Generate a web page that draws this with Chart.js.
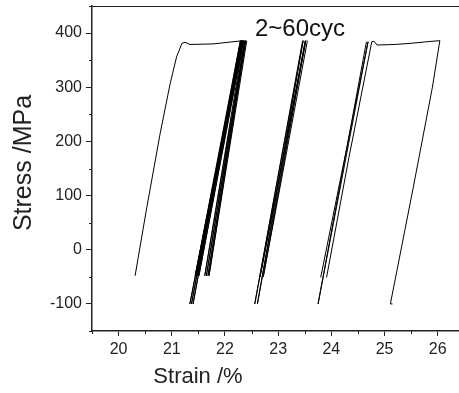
<!DOCTYPE html>
<html>
<head>
<meta charset="utf-8">
<script src="https://cdn.jsdelivr.net/npm/chart.js@4/dist/chart.umd.min.js"></script>
<style>
  html, body { margin: 0; padding: 0; background: #fff; }
</style>
</head>
<body>
<canvas id="chart" width="459" height="393"></canvas>
<script>
// cycle 1: first loading with the flat plateau
const firstStrain = [20.31, 20.53, 20.78, 20.97, 21.09, 21.19, 21.25, 21.34, 21.78, 22.34];
const firstStress = [-48, 78, 214, 307, 356, 381, 383, 379, 380, 386];

// early cycles, unload/reload path (dense group)
const band1Strain = [22.34, 21.34, 22.29, 21.37, 22.30, 21.40, 22.31,
                     21.44, 22.32, 21.46, 22.33, 21.48, 22.34, 21.51, 22.35,
                     21.62, 22.37, 21.65, 22.38, 21.68, 22.39, 21.70, 22.41];
const band1Stress = [386, -100, 386, -100, 386, -100, 386,
                     -48, 386, -48, 386, -48, 386, -48, 386,
                     -48, 386, -48, 386, -48, 386, -48, 386];

// middle cycles
const band2Strain = [23.46, 22.56, 23.47, 22.61, 23.51, 22.66, 23.52, 22.72, 23.55];
const band2Stress = [386, -100, 386, -100, 386, -50, 386, -50, 386];

// later cycles
const band3Strain = [23.80, 24.69, 23.75, 24.66];
const band3Stress = [-51, 384, -100, 384];

// last cycle: reload, second plateau, unload
const lastStrain = [23.91, 24.33, 24.76, 24.80, 24.86, 25.20, 25.48, 25.79, 26.04, 25.90, 25.54, 25.11, 25.15];
const lastStress = [-51, 170, 384, 385, 378, 379, 381, 384, 386, 300, 115, -100, -100];

const xTicks = [20, 21, 22, 23, 24, 25, 26];
const yTicks = [-100, 0, 100, 200, 300, 400];
const xMinor = [19.5, 20.5, 21.5, 22.5, 23.5, 24.5, 25.5];
const yMinor = [-150, -50, 50, 150, 250, 350, 450];

const xTitle = 'Strain /%';
const yTitle = 'Stress /MPa';
const note = '2~60cyc';

function pts(xs, ys) {
  return xs.map((x, i) => ({ x: x, y: ys[i] }));
}

function line(xs, ys) {
  return {
    data: pts(xs, ys),
    showLine: true,
    borderColor: '#000',
    borderWidth: 1,
    pointRadius: 0,
    tension: 0,
    fill: false
  };
}

const FONT = '"Liberation Sans", Arial, sans-serif';
const INK = '#222';

// top frame, minor ticks, titles and the cycle note
const extras = {
  id: 'extras',
  afterDraw(chart) {
    const ctx = chart.ctx, a = chart.chartArea;
    const xs = chart.scales.x, ys = chart.scales.y;
    ctx.save();
    ctx.strokeStyle = INK;
    ctx.lineWidth = 1;
    ctx.beginPath();
    ctx.moveTo(a.left, a.top + 0.5);
    ctx.lineTo(a.right, a.top + 0.5);
    xMinor.forEach(v => {
      const p = Math.round(xs.getPixelForValue(v)) + 0.5;
      ctx.moveTo(p, a.bottom);
      ctx.lineTo(p, a.bottom + 3);
    });
    yMinor.forEach(v => {
      const p = Math.round(ys.getPixelForValue(v)) + 0.5;
      ctx.moveTo(a.left, p);
      ctx.lineTo(a.left - 3, p);
    });
    ctx.stroke();

    ctx.fillStyle = INK;
    ctx.font = '22px ' + FONT;
    ctx.textAlign = 'center';
    ctx.textBaseline = 'alphabetic';
    ctx.fillText(xTitle, 198, 383);

    ctx.save();
    ctx.translate(24, 163);
    ctx.rotate(-Math.PI / 2);
    ctx.font = '25px ' + FONT;
    ctx.textBaseline = 'middle';
    ctx.fillText(yTitle, 0, 0);
    ctx.restore();

    ctx.fillStyle = '#111';
    ctx.font = '24px ' + FONT;
    ctx.textAlign = 'left';
    ctx.fillText(note, 255, 36);
    ctx.restore();
  }
};

new Chart(document.getElementById('chart'), {
  type: 'scatter',
  data: {
    datasets: [
      line(firstStrain, firstStress),
      line(band1Strain, band1Stress),
      line(band2Strain, band2Stress),
      line(band3Strain, band3Stress),
      line(lastStrain, lastStress)
    ]
  },
  options: {
    responsive: false,
    animation: false,
    devicePixelRatio: 1,
    layout: { padding: { top: 6, right: 0, left: 0, bottom: 0 } },
    plugins: { legend: { display: false }, tooltip: { enabled: false } },
    scales: {
      x: {
        type: 'linear',
        min: 19.5,
        max: 26.4,
        afterBuildTicks: s => { s.ticks = xTicks.map(v => ({ value: v })); },
        afterFit: s => { s.height = 62; s.paddingLeft = 0; s.paddingRight = 0; },
        border: { color: INK, width: 1.5 },
        grid: { drawOnChartArea: false, drawTicks: true, tickLength: 5, tickColor: INK, tickWidth: 1 },
        ticks: { color: INK, font: { family: FONT, size: 16 }, padding: 4, maxRotation: 0 }
      },
      y: {
        type: 'linear',
        min: -150,
        max: 450,
        afterBuildTicks: s => { s.ticks = yTicks.map(v => ({ value: v })); },
        afterFit: s => { s.width = 92; s.paddingTop = 0; s.paddingBottom = 0; },
        border: { color: INK, width: 1.5 },
        grid: { drawOnChartArea: false, drawTicks: true, tickLength: 6, tickColor: INK, tickWidth: 1 },
        ticks: { color: INK, font: { family: FONT, size: 16 }, padding: 4 }
      }
    }
  },
  plugins: [extras]
});
</script>
</body>
</html>
